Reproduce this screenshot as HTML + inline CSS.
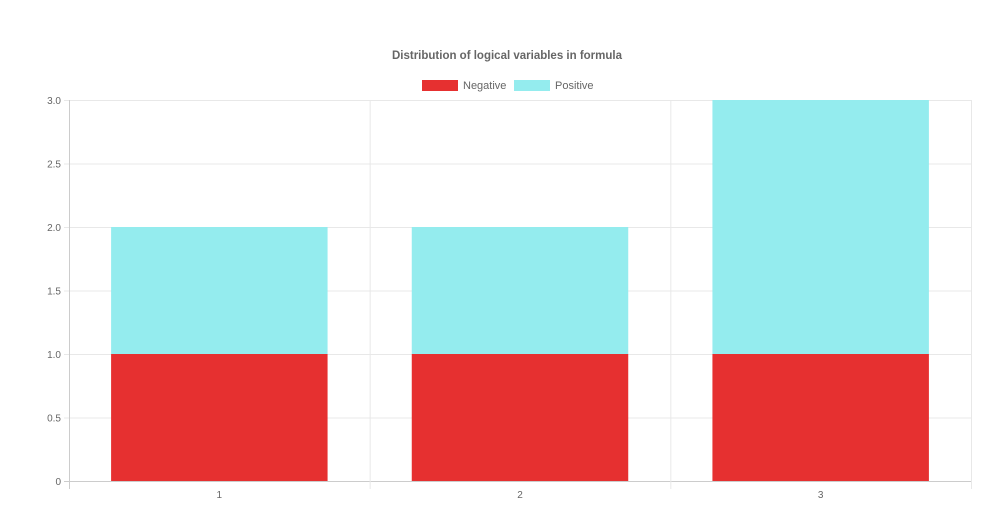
<!DOCTYPE html>
<html><head><meta charset="utf-8"><style>
html,body{margin:0;padding:0;background:#fff;}
svg{display:block;font-family:"Liberation Sans",Arial,sans-serif;}
</style></head><body>
<svg id="chart" width="988" height="523">
<text x="507" y="59" text-anchor="middle" font-size="11.5" font-weight="bold" fill="#666">Distribution of logical variables in formula</text>
<g>
<g><rect x="422" y="80" width="36" height="11" fill="#e63030"/><text x="463" y="89" font-size="11" fill="#666">Negative</text></g>
<g><rect x="514" y="80" width="36" height="11" fill="#94ecee"/><text x="555" y="89" font-size="11" fill="#666">Positive</text></g>
</g>
<g id="grid"></g><g id="bars"></g><g id="axes"></g>
</svg>
<script>
const categories = ["1","2","3"];
const negativeValues = [1,1,1];
const positiveValues = [1,1,2];
const yTicks = [0,0.5,1,1.5,2,2.5,3];
const yTickLabels = ["0","0.5","1.0","1.5","2.0","2.5","3.0"];

const NS="http://www.w3.org/2000/svg";
const L=69,R=971,T=100,B=481,yMax=3;
const y=v=>B-(v/yMax)*(B-T);
const bw=(R-L)/categories.length;
const xc=i=>L+bw*(i+0.5);
function mk(tag,attrs,parent){const e=document.createElementNS(NS,tag);for(const k in attrs)e.setAttribute(k,attrs[k]);parent.appendChild(e);return e;}
const grid=document.getElementById('grid'),bars=document.getElementById('bars'),axes=document.getElementById('axes');
yTicks.forEach((t,i)=>{
  const ln=mk('line',{x1:L-5,x2:R,y1:y(t)+0.5,y2:y(t)+0.5,stroke:i===0?'#ccc':'#e8e8e8','stroke-width':1},grid);
  
  
  const tx=mk('text',{x:L-8,y:y(t)+4,'text-anchor':'end','font-size':10,fill:'#666'},axes);
  tx.textContent=yTickLabels[i];
  
  
});
for(let i=0;i<=categories.length;i++){
  const x=L+bw*i;
  const ln=mk('line',{x1:x+0.5,x2:x+0.5,y1:T,y2:B+8,stroke:i===0?'#ccc':'#e8e8e8','stroke-width':1},grid);
  
  
}
categories.forEach((c,i)=>{
  const w=bw*0.72,x=xc(i)-w/2;
  const n=mk('rect',{x:x,y:y(negativeValues[i]),width:w,height:y(0)-y(negativeValues[i]),fill:'#e63030'},bars);
  
  
  const top=negativeValues[i]+positiveValues[i];
  const p=mk('rect',{x:x,y:y(top),width:w,height:y(negativeValues[i])-y(top),fill:'#94ecee'},bars);
  
  
  const tx=mk('text',{x:xc(i),y:B+17,'text-anchor':'middle','font-size':10,fill:'#666'},axes);
  tx.textContent=c;
  
  
});
</script>
</body></html>
